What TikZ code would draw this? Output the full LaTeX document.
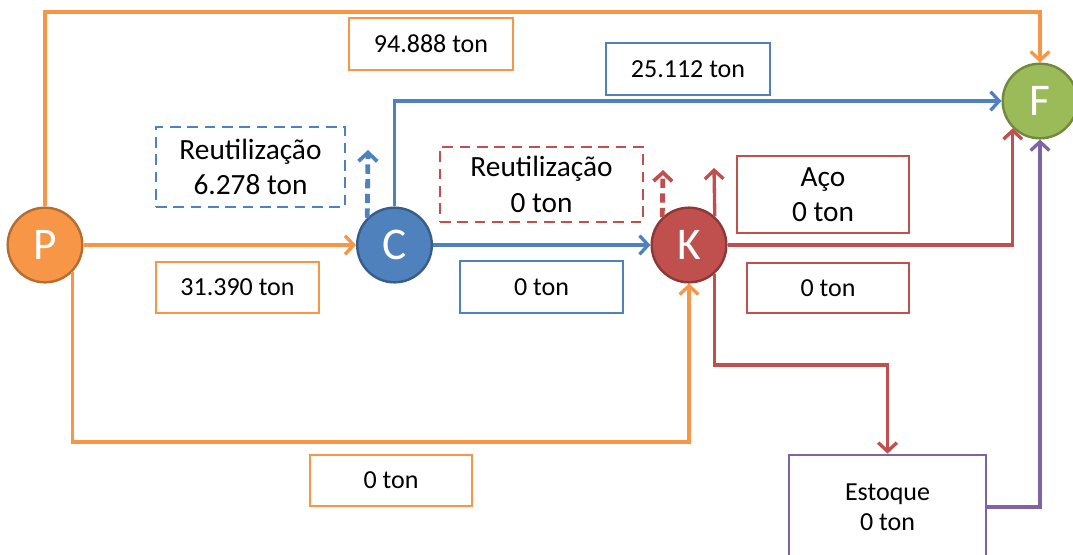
\documentclass[tikz,border=0pt]{standalone}
\usepackage{fontspec}
\setmainfont{Carlito}
\usetikzlibrary{arrows.meta}
\definecolor{cor}{HTML}{F79646}
\definecolor{corD}{HTML}{B66D31}
\definecolor{cbl}{HTML}{4F81BD}
\definecolor{cblD}{HTML}{385D8A}
\definecolor{cre}{HTML}{C0504D}
\definecolor{creD}{HTML}{8C3836}
\definecolor{cgr}{HTML}{9BBB59}
\definecolor{cgrD}{HTML}{71893F}
\definecolor{cpu}{HTML}{8064A2}
\tikzset{
  circ/.style={circle,minimum size=56pt,inner sep=0pt,line width=1.8pt,text=white,font=\fontsize{34}{40}\selectfont},
  bigbox/.style={draw,line width=2.1pt,align=center,inner sep=0pt,fill=white,font=\fontsize{22}{26.5}\selectfont},
  smallbox/.style={draw,line width=2.1pt,align=center,inner sep=0pt,fill=white,font=\fontsize{19.5}{22.5}\selectfont},
  flow/.style={line width=2.5pt,-{Straight Barb[length=6.5pt,width=14pt,line width=2.5pt]}},
  dflow/.style={line width=3.6pt,dash pattern=on 7pt off 4pt,-{Straight Barb[length=6.5pt,width=14pt,line width=2.8pt]}},
  dbox/.style={dash pattern=on 8pt off 5pt}
}
\begin{document}
\begin{tikzpicture}[x=0.75pt,y=-0.75pt]
\useasboundingbox (0,0) rectangle (1073,554);
\clip (0,0) rectangle (1073,554);
% circles
\node[circ,fill=cor,draw=corD] (P) at (45,245) {P};
\node[circ,fill=cbl,draw=cblD] (C) at (394.5,245) {C};
\node[circ,fill=cre,draw=creD] (K) at (689,245) {K};
\node[circ,fill=cgr,draw=cgrD] (F) at (1040,101) {F};
% coordinates
\coordinate (ot) at (45,12);
\coordinate (ob) at (689,442);
\coordinate (cd) at (368,150);
\coordinate (kd) at (663,170);
\coordinate (ku) at (714,168);
\coordinate (rd) at (887.5,365);
% estoque
\node[smallbox,draw=cpu,minimum width=0.75*197pt,minimum height=0.75*104pt] (E) at (887.5,507) {Estoque\\0 ton};
% orange
\draw[flow,cor] (P.north) -- (ot) -| (F.north);
\draw[flow,cor] (P.east) -- (C.west);
\draw[flow,cor] (P.-44) |- (ob) -- (K.south);
% blue
\draw[flow,cbl] (C.north) |- (F.west);
\draw[dflow,cbl] (C.135) -- (cd);
\draw[flow,cbl] (C.east) -- (K.west);
% red
\draw[dflow,cre] (K.134) -- (kd);
\draw[flow,cre] (K.48) -- (ku);
\draw[flow,cre] (K.-48) |- (rd) -- (E.north);
\draw[flow,cre] (K.east) -| (F.-135);
% purple
\draw[flow,cpu] (E.east) -| (F.south);
% label boxes
\node[smallbox,draw=cor,minimum width=0.75*164pt,minimum height=0.75*52pt] (b94) at (431,44) {94.888 ton};
\node[smallbox,draw=cbl,minimum width=0.75*164pt,minimum height=0.75*52pt] (b25) at (688,69) {25.112 ton};
\node[bigbox,draw=cbl,dbox,minimum width=0.75*189pt,minimum height=0.75*80pt] (rC) at (250.5,167) {Reutilização\\6.278 ton};
\node[smallbox,draw=cor,minimum width=0.75*163pt,minimum height=0.75*51pt] (b31) at (237.5,287.5) {31.390 ton};
\node[bigbox,draw=cre,dbox,minimum width=0.75*203pt,minimum height=0.75*75pt] (rK) at (541.5,184.5) {Reutilização\\0 ton};
\node[smallbox,draw=cbl,minimum width=0.75*163pt,minimum height=0.75*52pt] (b0b) at (541.5,287) {0 ton};
\node[bigbox,draw=cre,minimum width=0.75*172pt,minimum height=0.75*77pt] (aco) at (823,194.5) {Aço\\0 ton};
\node[smallbox,draw=cre,minimum width=0.75*162pt,minimum height=0.75*50pt] (b0r) at (828,288) {0 ton};
\node[smallbox,draw=cor,minimum width=0.75*162pt,minimum height=0.75*51pt] (b0o) at (391,480.5) {0 ton};
\end{tikzpicture}
\end{document}
